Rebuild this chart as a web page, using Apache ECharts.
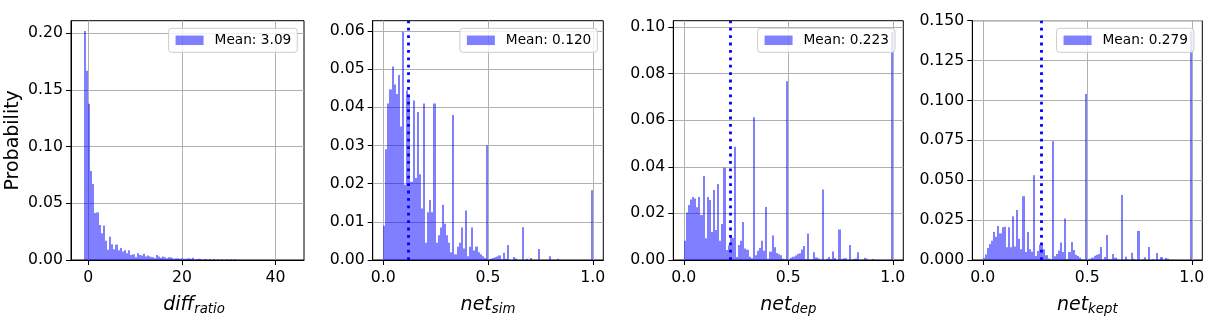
<!DOCTYPE html>
<html><head><meta charset="utf-8">
<script src="https://cdn.jsdelivr.net/npm/echarts@6/dist/echarts.min.js"></script>
<style>html,body{margin:0;padding:0;background:#fff}#c{width:1221px;height:335px}</style>
</head><body><div id="c"></div>
<script>
// ---- data ----
const diffRatioBinStart = -1.44;
const diffRatioBinWidth = 0.4527;
const diffRatioValues = [
 0, 0.202, 0.167, 0.138, 0.0785, 0.067, 0.0415, 0.042, 0.031, 0.0235,
 0.0305, 0.017, 0.009, 0.0205, 0.014, 0.0095, 0.0135, 0.0085, 0.0105, 0.0075,
 0.0085, 0.006, 0.0085, 0.0045, 0.005, 0.0025, 0.006, 0.0045, 0.004, 0.0055,
 0.003, 0.004, 0.003, 0.0025, 0.0015, 0.0045, 0.003, 0.002, 0.003, 0.0025,
 0.0015, 0.0025, 0.002, 0.001, 0.0015, 0.0015, 0.001, 0.0015, 0.0012, 0.0012,
 0.0015, 0.001, 0.002, 0.0003, 0.0008, 0.001, 0.0008, 0, 0.0008, 0,
 0.0008, 0, 0.0008, 0, 0.0007, 0, 0.0007, 0, 0.0007, 0,
 0.0007, 0, 0.0006, 0, 0, 0, 0, 0, 0, 0,
 0, 0, 0, 0, 0, 0, 0, 0, 0, 0,
 0, 0, 0, 0, 0, 0, 0, 0, 0, 0
];
const netBinStart = 0;
const netBinWidth = 0.01;
const netSimValues = [
 0.009, 0.029, 0.041, 0.0447, 0.0507, 0.046, 0.0435, 0.0485, 0.035, 0.0598,
 0.0197, 0.0445, 0.043, 0.0205, 0.0418, 0.0215, 0.0388, 0.0225, 0.0135, 0.041,
 0.0045, 0.0125, 0.0157, 0.0125, 0.041, 0.0045, 0.0065, 0.0085, 0.0145, 0.0095,
 0.0065, 0.0045, 0.002, 0.038, 0.0015, 0.0035, 0.0045, 0.0085, 0.003, 0.013,
 0.001, 0.0035, 0.0085, 0.0025, 0.0035, 0.002, 0.0015, 0.001, 0.0005, 0.030,
 0.0002, 0.0003, 0.0005, 0.0007, 0.0009, 0.0012, 0.0002, 0.0019, 0.0003, 0.0039,
 0, 0, 0.0008, 0.0004, 0, 0, 0.0086, 0, 0.0003, 0,
 0.0005, 0, 0, 0, 0.0029, 0, 0, 0, 0, 0.001,
 0, 0, 0, 0.0003, 0, 0, 0, 0, 0, 0,
 0, 0, 0, 0, 0, 0, 0, 0, 0, 0.0183
];
const netDepValues = [
 0.0083, 0.0204, 0.0236, 0.026, 0.027, 0.0264, 0.0226, 0.027, 0.0193, 0.036,
 0.0093, 0.027, 0.0257, 0.012, 0.030, 0.0129, 0.0326, 0.0083, 0.0154, 0.0396,
 0.0043, 0.0063, 0.0103, 0.0096, 0.0486, 0.0013, 0.0064, 0.0083, 0.0163, 0.0049,
 0.0044, 0.0014, 0.0007, 0.0613, 0.002, 0.004, 0.0051, 0.0083, 0.004, 0.0227,
 0.0005, 0.0036, 0.0105, 0.0055, 0.003, 0.0025, 0.002, 0.0005, 0.0003, 0.0767,
 0.0003, 0.001, 0.0014, 0.0019, 0.0026, 0.0029, 0.0045, 0.006, 0.0003, 0.0114,
 0.0002, 0.0003, 0.0033, 0.0011, 0.0006, 0, 0.0303, 0, 0.0005, 0.0013,
 0.0003, 0.0036, 0.0009, 0, 0.0131, 0.0004, 0.0008, 0.0008, 0, 0.0064,
 0, 0.0004, 0.0006, 0.0033, 0, 0.0001, 0.001, 0.0005, 0, 0,
 0.0004, 0, 0, 0, 0, 0, 0, 0, 0, 0.0978
];
const netKeptValues = [
 0.0013, 0.0035, 0.0075, 0.010, 0.012, 0.0175, 0.0145, 0.0213, 0.0167, 0.0205,
 0.0208, 0.008, 0.0205, 0.008, 0.0275, 0.0085, 0.0313, 0.0133, 0.0067, 0.040,
 0.005, 0.0175, 0.0067, 0.0052, 0.0532, 0.0025, 0.0056, 0.0095, 0.0104, 0.0067,
 0.003, 0.001, 0.0005, 0.0745, 0.0023, 0.0038, 0.006, 0.011, 0.005, 0.026,
 0.0005, 0.005, 0.0113, 0.0063, 0.0033, 0.0025, 0.0015, 0.0005, 0, 0.104,
 0.0003, 0.0008, 0.0015, 0.0027, 0.0033, 0.0038, 0.0081, 0.0003, 0.0019, 0.0157,
 0.0004, 0.0005, 0.0038, 0.0015, 0.0005, 0, 0.0407, 0.0002, 0.002, 0.0003,
 0, 0.0046, 0.0008, 0, 0.0182, 0, 0.0004, 0.0017, 0, 0.0081,
 0, 0.0004, 0, 0.0044, 0, 0.0019, 0.0002, 0.0013, 0.0008, 0,
 0, 0, 0, 0, 0, 0, 0, 0, 0, 0.1434
];
const meanValues = [3.09, 0.120, 0.223, 0.279];
const legendLabels = ['Mean: 3.09', 'Mean: 0.120', 'Mean: 0.223', 'Mean: 0.279'];
const xNames = [['diff', 'ratio'], ['net', 'sim'], ['net', 'dep'], ['net', 'kept']];
const xTicksDiff = [0, 20, 40];
const xTicksNet = [0, 0.5, 1.0];
const yTicksDiff = [0, 0.05, 0.10, 0.15, 0.20];
const yTicksSim = [0, 0.01, 0.02, 0.03, 0.04, 0.05, 0.06];
const yTicksDep = [0, 0.02, 0.04, 0.06, 0.08, 0.10];
const yTicksKept = [0, 0.025, 0.050, 0.075, 0.100, 0.125, 0.150];

// ---- layout / style ----
const FONT = 'DejaVu Sans';
const BAR = 'rgba(0,0,255,0.5)';
const panels = [
  {vals: diffRatioValues, start: diffRatioBinStart, w: diffRatioBinWidth, xmin: -3.7, xmax: 46.1, ymax: 0.2112,
   xt: xTicksDiff, yt: yTicksDiff, xd: 0, yd: 2, left: 71, width: 233, legendRight: 923.7, showMean: false, namePad: 13},
  {vals: netSimValues, start: netBinStart, w: netBinWidth, xmin: -0.05, xmax: 1.05, ymax: 0.0627,
   xt: xTicksNet, yt: yTicksSim, xd: 1, yd: 2, left: 372.7, width: 230.6, legendRight: 623.7, showMean: true, namePad: 0},
  {vals: netDepValues, start: netBinStart, w: netBinWidth, xmin: -0.05, xmax: 1.05, ymax: 0.1027,
   xt: xTicksNet, yt: yTicksDep, xd: 1, yd: 2, left: 673.3, width: 230, legendRight: 326, showMean: true, namePad: 0},
  {vals: netKeptValues, start: netBinStart, w: netBinWidth, xmin: -0.05, xmax: 1.05, ymax: 0.150,
   xt: xTicksNet, yt: yTicksKept, xd: 1, yd: 3, left: 972.3, width: 230, legendRight: 27, showMean: true, namePad: 0}
];

function renderBar(params, api) {
  const y = api.value(2);
  if (!(y > 0)) return null;
  const a = api.coord([api.value(0), y]);
  const b = api.coord([api.value(1), 0]);
  const x0 = Math.round(a[0]), x1 = Math.round(b[0]);
  return {type: 'rect', shape: {x: x0, y: a[1], width: Math.max(1, x1 - x0), height: b[1] - a[1]},
          style: {fill: BAR}};
}

const grids = [], xAxes = [], yAxes = [], series = [], legends = [];
panels.forEach((p, i) => {
  grids.push({left: p.left, top: 20.7, width: p.width, height: 239.3, show: true,
              borderColor: '#000', borderWidth: 1, backgroundColor: 'transparent'});
  xAxes.push({type: 'value', gridIndex: i, min: p.xmin, max: p.xmax,
    axisLine: {show: true, onZero: false, lineStyle: {color: '#000', width: 1}},
    axisTick: {show: true, length: 5, customValues: p.xt, lineStyle: {color: '#000', width: 1}},
    axisLabel: {customValues: p.xt, margin: 10, color: '#000', fontFamily: FONT, fontSize: 15.7,
      formatter: v => v.toFixed(p.xd)},
    splitLine: {show: true, lineStyle: {color: '#b0b0b0', width: 1}},
    name: '{a|' + xNames[i][0] + '}{b|' + xNames[i][1] + '}', nameLocation: 'middle', nameGap: 34,
    nameTextStyle: {rich: {
      a: {fontFamily: FONT, fontStyle: 'italic', fontSize: 19, color: '#000', padding: [0, 0, 0, p.namePad]},
      b: {fontFamily: FONT, fontStyle: 'italic', fontSize: 13.3, color: '#000', padding: [9, 0, 0, 0]}
    }}
  });
  const yAx = {type: 'value', gridIndex: i, min: 0, max: p.ymax,
    axisLine: {show: true, onZero: false, lineStyle: {color: '#000', width: 1}},
    axisTick: {show: true, length: 5, customValues: p.yt, lineStyle: {color: '#000', width: 1}},
    axisLabel: {customValues: p.yt, margin: 8, color: '#000', fontFamily: FONT, fontSize: 15.7,
      formatter: v => v.toFixed(p.yd)},
    splitLine: {show: true, lineStyle: {color: '#b0b0b0', width: 1}}};
  if (i === 0) {
    yAx.name = 'Probability'; yAx.nameLocation = 'middle'; yAx.nameGap = 48;
    yAx.nameTextStyle = {fontFamily: FONT, fontSize: 19, color: '#000'};
  }
  yAxes.push(yAx);
  const data = p.vals.map((v, k) => [p.start + k * p.w, p.start + (k + 1) * p.w, v]);
  series.push({type: 'custom', name: legendLabels[i], xAxisIndex: i, yAxisIndex: i,
    renderItem: renderBar, data: data, itemStyle: {color: BAR},
    encode: {x: [0, 1], y: 2}, silent: true, z: 2});
  if (p.showMean) {
    series.push({type: 'line', name: 'mean' + i, xAxisIndex: i, yAxisIndex: i, data: [], z: 3,
      markLine: {silent: true, symbol: ['none', 'none'], label: {show: false}, animation: false,
        lineStyle: {color: '#0000ff', width: 2.8, type: [2.8, 4.6], cap: 'butt', opacity: 1},
        emphasis: {disabled: true},
        data: [{xAxis: meanValues[i]}]}});
  }
  legends.push({data: [legendLabels[i]], right: p.legendRight, top: 28.3, orient: 'vertical',
    icon: 'rect', itemWidth: 28, itemHeight: 9.5, padding: [5, 6, 5, 7],
    backgroundColor: 'rgba(255,255,255,0.8)', borderColor: '#cccccc', borderWidth: 1, borderRadius: 3,
    selectedMode: false, z: 10,
    textStyle: {fontFamily: FONT, fontSize: 13.7, color: '#000', padding: [0, 0, 0, 6], lineHeight: 14}});
});

const chart = echarts.init(document.getElementById('c'), null, {renderer: 'canvas'});
chart.setOption({animation: false, backgroundColor: '#fff', grid: grids, xAxis: xAxes, yAxis: yAxes,
  series: series, legend: legends});
</script></body></html>
